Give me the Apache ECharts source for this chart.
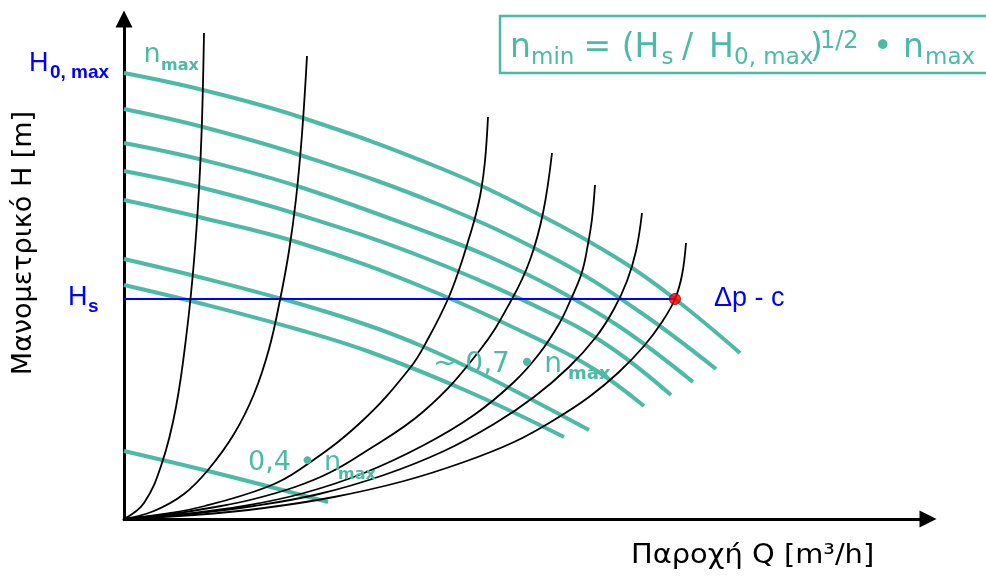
<!DOCTYPE html>
<html>
<head>
<meta charset="utf-8">
<title>Καμπύλες αντλίας</title>
<script src="https://cdn.jsdelivr.net/npm/echarts@6/dist/echarts.min.js"></script>
<style>
html, body { margin: 0; padding: 0; background: #fff; }
#chart { width: 986px; height: 576px; }
</style>
</head>
<body>
<div id="chart"></div>
<script>
// pump curves (Q, H), n = nmax at the top
const pumpNmax = [[0,446],[79,429],[176,402],[316,351],[416,304],[496,259],[551,220],[616,166]];
const pumpN2 = [[0,410],[79,392],[176,364],[316,314],[433,259],[516,207],[592,150]];
const pumpN3 = [[0,376],[79,359],[176,332],[316,282],[366,262],[426,233],[496,192],[569,137]];
const pumpN4 = [[0,348],[79,331],[176,304],[301,261],[426,206],[486,172],[547,124]];
const pumpN5 = [[0,319],[79,301],[176,276],[301,231],[426,174],[473,148],[520,113]];
const pumpN6 = [[0,260],[79,241],[176,215],[246,193],[300,172],[356,146],[465,89]];
const pumpN07 = [[0,234],[79,215],[176,189],[246,167],[343,128],[440,82]];
const pumpN04 = [[0,68],[96,45],[204,17]];

// system curves, all from the origin
const system1 = [[0,0],[20,16],[38,56],[52,112],[63,189],[70,258],[75,330],[78,399],[80,486]];
const system2 = [[0,0],[30,8],[60,25],[84,49],[110,85],[130,125],[145,170],[156,219],[165,268],[172,320],[178,385],[183,463]];
const system3 = [[0,0],[40,5],[81,13],[143,32],[175,49],[236,96],[286,151],[305,182],[324,220],[336,252],[346,284],[352,305],[357,328],[361,358],[364,402]];
const system4 = [[0,0],[47,5],[97,13],[130,20],[171,32],[205,46],[236,64],[300,108],[356,169],[388,220],[406,259],[419,306],[428,366]];
const system5 = [[0,0],[60,5],[120,13],[180,26],[240,46],[300,74],[350,104],[390,137],[415,165],[435,195],[447,220],[458,247],[464,275],[468,300],[471,334]];
const system6 = [[0,0],[65,5],[130,13],[195,25],[260,44],[320,68],[370,95],[410,122],[445,152],[472,182],[490,210],[503,238],[512,268],[518,306]];
const system7 = [[0,0],[70,4],[140,11],[210,22],[280,38],[340,57],[390,77],[430,99],[465,122],[495,147],[520,173],[538,197],[551,220],[558,244],[562,276]];

const hsLevel = 220;
const operatingQ = 551;

const teal = "#4dbaa5";
const blue = "#0000ff";

function pumpSeries(data) {
  return {
    type: "line", data: data, smooth: 0.4, showSymbol: false, silent: true,
    lineStyle: { color: teal, width: 4 }, z: 2,
  };
}
function systemSeries(data) {
  return {
    type: "line", data: data, smooth: 0.4, showSymbol: false, silent: true,
    lineStyle: { color: "#000", width: 1.8 }, z: 4,
  };
}
function txt(text, x, y, font, color, extra) {
  return Object.assign({
    type: "text", x: x, y: y, z: 100, silent: true,
    style: { text: text, font: font, fill: color, textAlign: "left", textVerticalAlign: "middle" },
  }, extra || {});
}

const dv = "'DejaVu Sans', Verdana, sans-serif";
const lib = "'Liberation Sans', Arial, sans-serif";

let chart = echarts.init(document.getElementById("chart"));
let option = {
  animation: false,
  grid: { left: 124, top: 19, width: 804, height: 500 },
  xAxis: {
    type: "value", min: 0, max: 804,
    axisLine: { show: true, symbol: ["none", "triangle"], symbolSize: [17, 17], lineStyle: { color: "#000", width: 3 } },
    axisTick: { show: false }, axisLabel: { show: false }, splitLine: { show: false },
  },
  yAxis: {
    type: "value", min: 0, max: 500,
    axisLine: { show: true, symbol: ["none", "triangle"], symbolSize: [17, 17], lineStyle: { color: "#000", width: 3 } },
    axisTick: { show: false }, axisLabel: { show: false }, splitLine: { show: false },
  },
  series: [
    pumpSeries(pumpNmax), pumpSeries(pumpN2), pumpSeries(pumpN3), pumpSeries(pumpN4),
    pumpSeries(pumpN5), pumpSeries(pumpN6), pumpSeries(pumpN07), pumpSeries(pumpN04),
    {
      type: "line", data: [[0, hsLevel], [operatingQ, hsLevel]], showSymbol: false, silent: true,
      lineStyle: { color: blue, width: 1.8 }, z: 3,
    },
    systemSeries(system1), systemSeries(system2), systemSeries(system3), systemSeries(system4),
    systemSeries(system5), systemSeries(system6), systemSeries(system7),
    {
      type: "scatter", data: [[operatingQ, hsLevel]], symbolSize: 11, silent: true,
      itemStyle: { color: "#ff0000", borderColor: "#7a0000", borderWidth: 1 }, z: 6,
    },
  ],
  graphic: [
    // formula box
    { type: "rect", silent: true, z: 90, shape: { x: 500, y: 16, width: 520, height: 57 },
      style: { fill: "#fff", stroke: teal, lineWidth: 2.5 } },
    txt("n", 510, 48, "33px " + dv, teal),
    txt("min", 531, 58, "23px " + dv, teal),
    txt("= (H", 583.5, 48, "33px " + dv, teal),
    txt("s", 661.5, 58, "23px " + dv, teal),
    txt("/", 682, 48, "33px " + dv, teal),
    txt("H", 709, 48, "33px " + dv, teal),
    txt("0, max", 734, 58, "23px " + dv, teal),
    txt(")", 810, 48, "33px " + dv, teal),
    txt("1/2", 820, 42, "24px " + dv, teal),
    txt("• n", 873, 48, "33px " + dv, teal),
    txt("max", 925, 58, "23px " + dv, teal),
    // H0,max and Hs
    txt("H", 29, 63.3, "27px " + lib, blue),
    txt("0, max", 50, 72.7, "bold 19px " + lib, blue),
    txt("H", 68, 297.6, "27px " + lib, blue),
    txt("s", 88, 306.4, "bold 19px " + lib, blue),
    txt("Δp - c", 714, 298.6, "27px " + lib, blue),
    // speed labels
    txt("n", 143.5, 55, "27px " + dv, teal),
    txt("max", 161, 65.5, "bold 16px " + dv, teal),
    txt("~ 0,7 • n", 433, 364.3, "28px " + dv, teal),
    txt("max", 568, 374.5, "bold 18px " + dv, teal),
    txt("0,4 • n", 248, 463.4, "27px " + dv, teal),
    txt("max", 338, 475, "bold 16px " + dv, teal),
    // axis titles
    txt("Παροχή Q [m³/h]", 631, 555.7, "27px " + dv, "#000", { scaleX: 1.07 }),
    txt("Μανομετρικό H [m]", 24, 243, "27px " + dv, "#000", {
      rotation: Math.PI / 2,
      style: { text: "Μανομετρικό H [m]", font: "27px " + dv, fill: "#000", textAlign: "center", textVerticalAlign: "middle" },
    }),
  ],
};
chart.setOption(option);
</script>
</body>
</html>
